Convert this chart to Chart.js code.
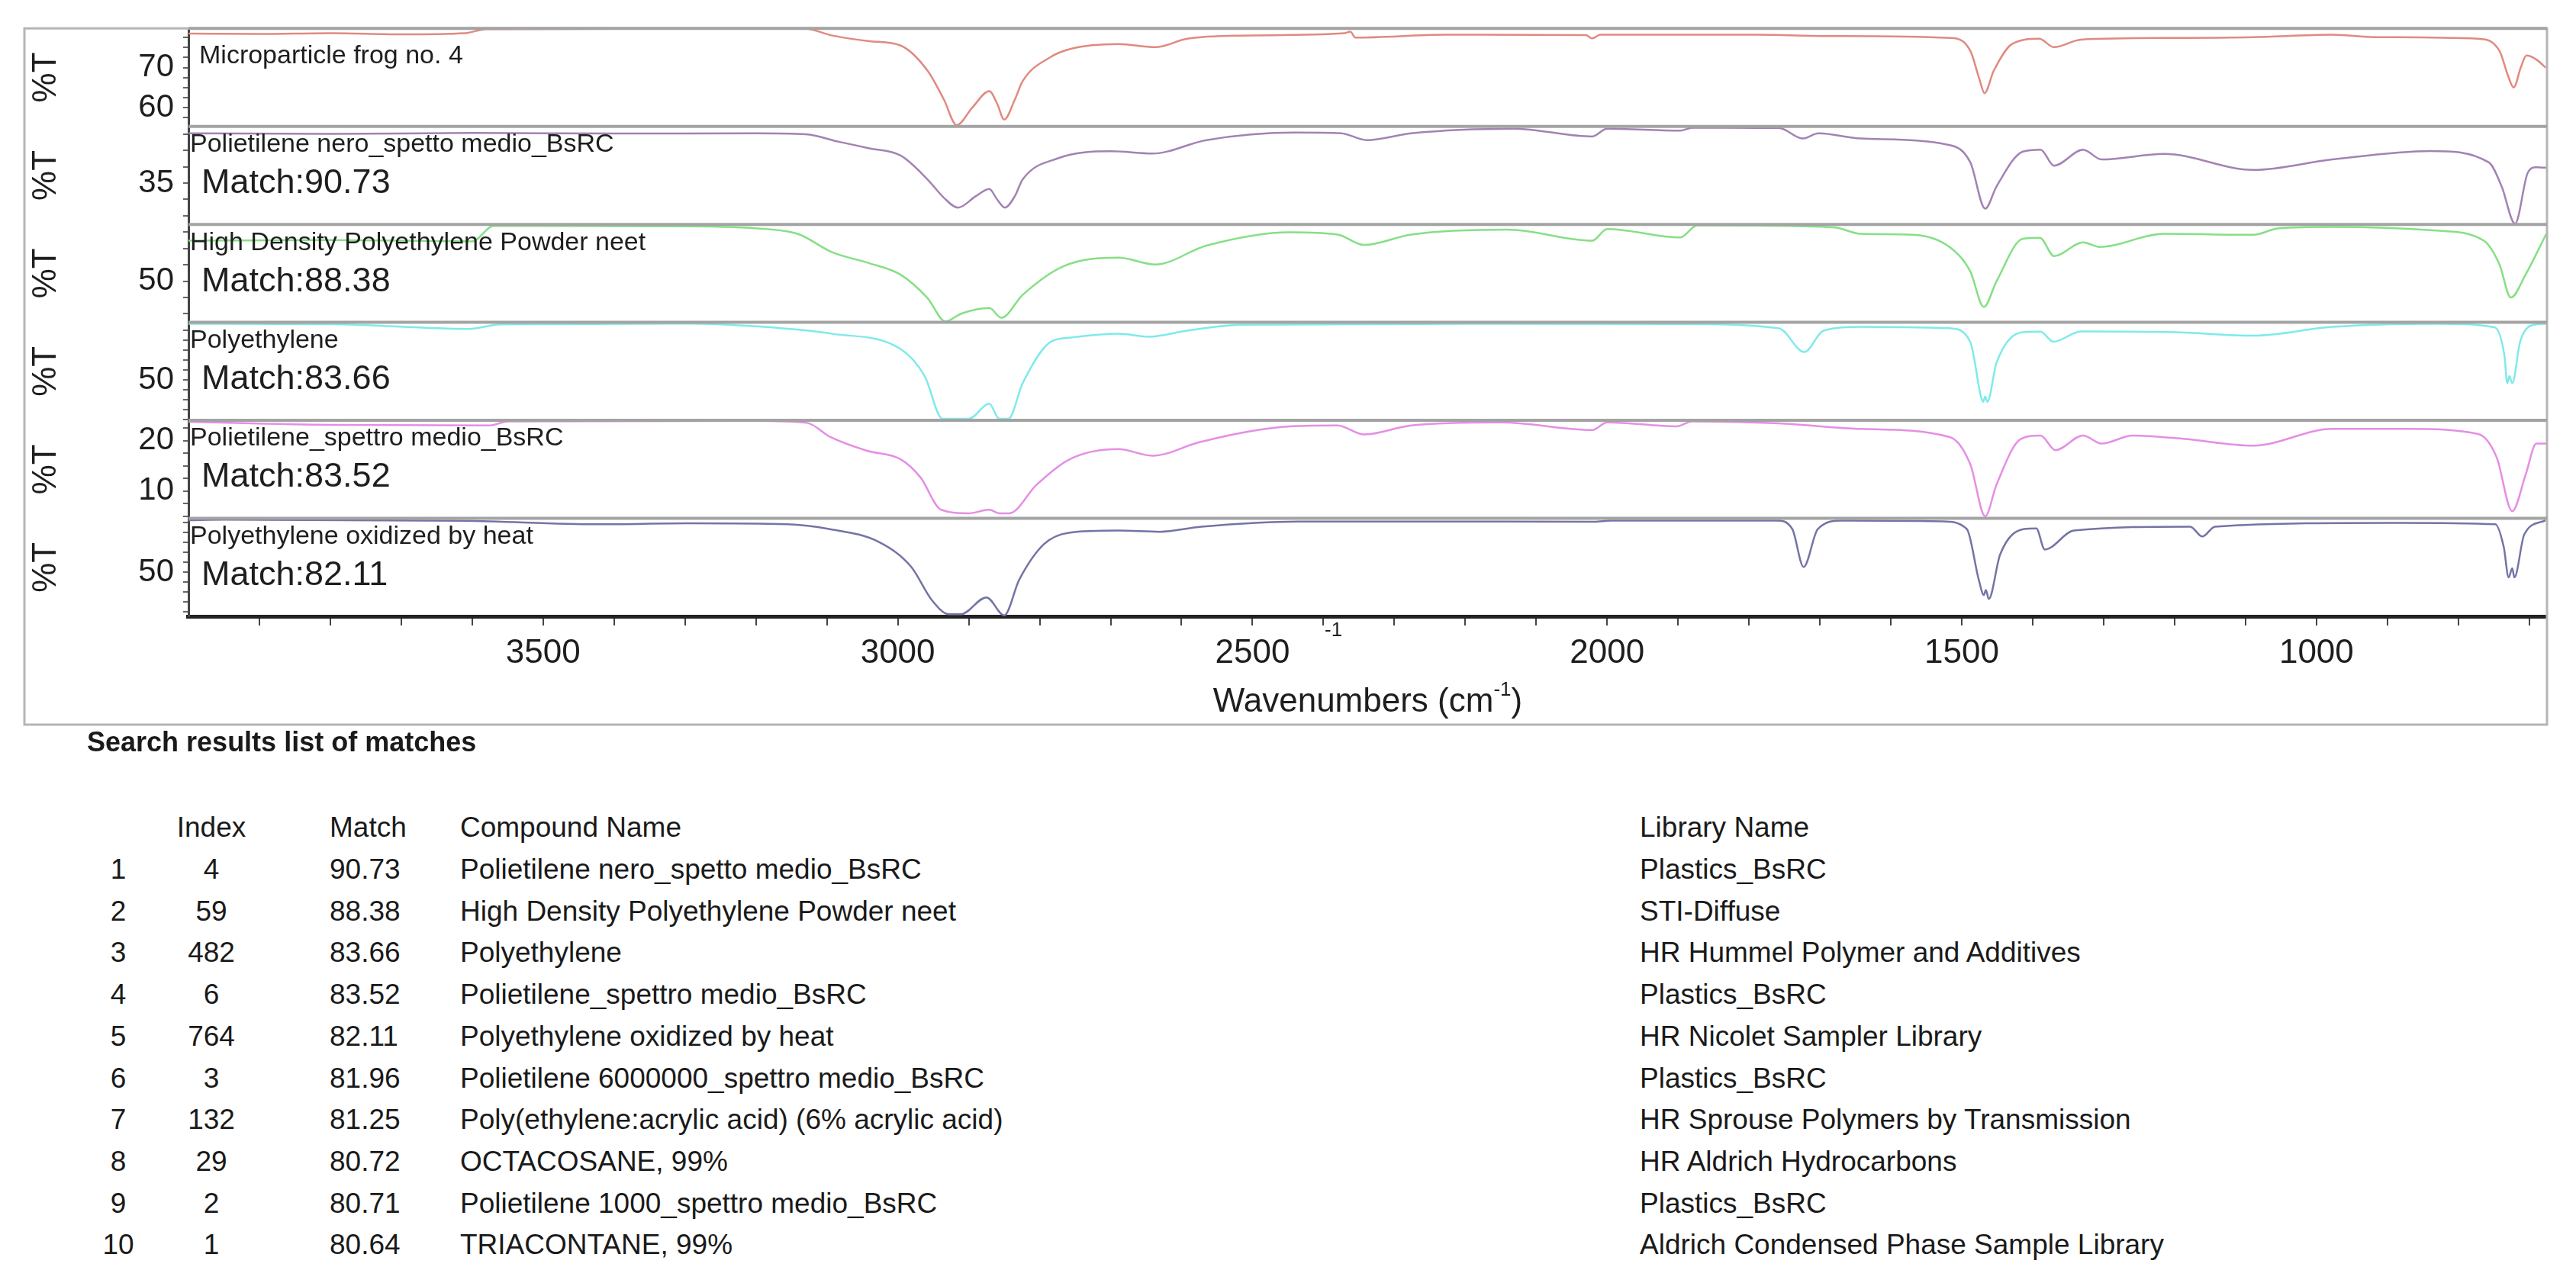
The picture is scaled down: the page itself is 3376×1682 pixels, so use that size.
<!DOCTYPE html>
<html lang="en">
<head>
  <meta charset="UTF-8">
  <title>Microparticle frog no. 4 - search results</title>
  <script src="https://cdn.jsdelivr.net/npm/chart.js"></script>
  <style>
    body {
      margin: 0;
      background: #fff;
      font-family: "Liberation Sans", Arial, sans-serif;
      color: #1a1a1a;
    }
    #wrap {
      position: relative;
      width: 3376px;
      height: 1682px;
      overflow: hidden;
    }
    #spectra {
      position: absolute;
      left: 0;
      top: 0;
    }
    .t {
      position: absolute;
      white-space: nowrap;
      font-size: 37px;
      line-height: 44px;
    }
    .c { transform: translateX(-50%); }
    .title {
      font-weight: bold;
      font-size: 36px;
    }
  </style>
</head>
<body>
  <div id="wrap">
    <canvas id="spectra" width="3376" height="1000"></canvas>
  </div>

  <script>
    // spectra: wavenumber (cm-1) and %T
    const frogWn = [4000, 3900, 3800, 3700, 3610, 3580, 3400, 3200, 3130, 3092, 3040, 2996, 2958, 2935, 2917, 2895, 2871, 2860, 2850, 2835, 2824, 2785, 2756, 2689, 2637, 2592, 2516, 2370, 2362, 2355, 2228, 2030, 2021, 2010, 1790, 1683, 1517, 1488, 1475, 1468, 1455, 1429, 1391, 1370, 1332, 1200, 1089, 978, 912, 772, 742, 730, 722, 712, 704, 690, 677];
    const frogT = [78.5, 78.4, 78.6, 78.3, 78.6, 79.6, 79.7, 79.8, 79.7, 78.0, 76.6, 75.5, 69.2, 62.0, 55.6, 60.0, 64.1, 61.0, 57.0, 62.0, 66.6, 72.6, 74.7, 75.9, 75.1, 77.2, 78.0, 78.6, 79.0, 77.5, 78.2, 78.1, 77.3, 78.2, 78.2, 77.9, 77.4, 74.2, 67.0, 63.6, 69.2, 75.9, 77.2, 75.1, 77.0, 77.4, 77.6, 78.2, 77.6, 77.2, 74.2, 68.0, 65.0, 70.0, 73.0, 72.0, 70.0];

    const neroWn = [4000, 3800, 3600, 3400, 3200, 3130, 3083, 3040, 2996, 2958, 2935, 2915, 2890, 2871, 2860, 2849, 2835, 2824, 2775, 2699, 2641, 2565, 2440, 2375, 2339, 2276, 2132, 2021, 2000, 1897, 1880, 1790, 1758, 1724, 1702, 1643, 1517, 1488, 1467, 1451, 1414, 1389, 1370, 1329, 1303, 1215, 1089, 978, 839, 757, 739, 720, 702, 690, 676];
    const neroT = [50.2, 50.0, 50.3, 50.1, 50.2, 49.9, 47.6, 45.6, 43.4, 36.1, 30.5, 27.5, 31.0, 33.2, 30.0, 27.5, 31.0, 36.1, 42.5, 44.7, 44.0, 48.1, 50.4, 50.2, 48.1, 50.2, 51.6, 49.2, 51.6, 51.0, 51.9, 51.8, 51.8, 48.6, 50.2, 48.6, 46.6, 41.3, 27.2, 34.0, 44.6, 45.2, 40.3, 45.2, 42.2, 43.9, 39.0, 42.2, 44.8, 41.3, 34.0, 22.6, 38.2, 39.8, 39.7];

    const hdpeWn = [4000, 3800, 3600, 3570, 3300, 3188, 3140, 3092, 3040, 2996, 2958, 2933, 2910, 2871, 2854, 2824, 2766, 2689, 2637, 2565, 2448, 2380, 2343, 2276, 2141, 2021, 2000, 1897, 1873, 1790, 1680, 1643, 1569, 1517, 1488, 1469, 1451, 1414, 1390, 1370, 1329, 1306, 1215, 1089, 1053, 978, 831, 764, 742, 726, 705, 676];
    const hdpeT = [62.4, 62.6, 62.2, 66.9, 66.8, 66.0, 64.4, 58.8, 55.5, 52.0, 44.8, 37.7, 40.1, 41.8, 38.8, 45.8, 54.6, 57.2, 55.1, 60.9, 65.0, 64.3, 61.1, 64.3, 65.8, 62.4, 66.0, 63.4, 67.1, 67.0, 66.5, 64.5, 64.2, 60.4, 53.0, 42.1, 50.0, 63.0, 63.3, 57.7, 61.9, 60.5, 64.5, 64.2, 66.2, 66.6, 65.5, 62.4, 55.1, 45.0, 52.1, 64.5];

    const peWn = [4000, 3800, 3605, 3560, 3300, 3188, 3092, 2996, 2962, 2937, 2900, 2871, 2857, 2844, 2824, 2785, 2756, 2689, 2646, 2592, 2516, 2200, 1900, 1758, 1722, 1695, 1643, 1517, 1488, 1473, 1470, 1467, 1464, 1451, 1414, 1389, 1371, 1332, 1200, 1089, 978, 831, 749, 735, 731, 728, 724, 713, 698, 676];
    const peT = [78.5, 78.3, 75.9, 78.2, 78.6, 76.9, 73.4, 65.7, 51.9, 30.4, 30.4, 38.0, 30.4, 30.4, 48.4, 69.2, 71.5, 73.4, 71.9, 75.0, 78.0, 78.5, 78.4, 76.2, 64.2, 75.0, 76.9, 76.2, 69.2, 41.6, 39.0, 41.6, 39.0, 58.8, 74.2, 74.5, 69.4, 74.6, 74.2, 72.5, 76.9, 78.5, 76.7, 62.3, 48.4, 52.0, 48.4, 69.2, 77.5, 78.5];

    const spettroWn = [4000, 3800, 3575, 3550, 3200, 3128, 3095, 3044, 2996, 2968, 2939, 2900, 2871, 2857, 2843, 2804, 2756, 2689, 2641, 2574, 2458, 2380, 2343, 2276, 2150, 2021, 2000, 1902, 1880, 1758, 1643, 1517, 1488, 1467, 1451, 1417, 1389, 1368, 1329, 1303, 1259, 1185, 1089, 978, 868, 772, 746, 724, 705, 690, 676];
    const spettroT = [23.7, 23.1, 23.0, 23.8, 23.9, 23.5, 20.7, 18.0, 16.3, 12.7, 6.3, 5.6, 6.3, 5.6, 5.6, 11.3, 16.4, 18.3, 17.0, 19.7, 22.7, 23.0, 21.2, 23.0, 23.6, 22.1, 23.6, 22.8, 23.8, 23.4, 22.3, 20.7, 15.3, 5.0, 11.3, 20.3, 21.0, 18.1, 21.0, 19.4, 21.0, 20.3, 19.0, 22.3, 22.3, 21.3, 16.7, 6.0, 13.3, 19.4, 19.4];

    const oxidWn = [4000, 3950, 3611, 3424, 3296, 3156, 3097, 3027, 2981, 2952, 2928, 2911, 2875, 2850, 2829, 2794, 2759, 2689, 2631, 2572, 2435, 2274, 2018, 1995, 1761, 1739, 1723, 1703, 1668, 1528, 1493, 1476, 1469, 1466, 1462, 1446, 1412, 1395, 1383, 1342, 1178, 1161, 1143, 887, 748, 736, 729, 724, 721, 707, 677];
    const oxidT = [76.3, 76.6, 76.1, 74.3, 74.8, 74.3, 71.9, 65.4, 52.7, 35.9, 28.8, 28.8, 37.3, 28.2, 46.1, 64.2, 70.0, 71.1, 70.5, 73.1, 75.7, 75.7, 75.6, 76.2, 76.2, 71.9, 52.7, 71.9, 76.2, 75.8, 71.9, 46.1, 38.5, 41.0, 36.5, 59.0, 71.9, 72.2, 61.5, 71.1, 73.1, 68.1, 73.1, 75.0, 74.3, 62.8, 47.4, 52.0, 47.4, 69.2, 76.3];

    const panelNames = [
      'Microparticle frog no. 4',
      'Polietilene nero_spetto medio_BsRC',
      'High Density Polyethylene Powder neet',
      'Polyethylene',
      'Polietilene_spettro medio_BsRC',
      'Polyethylene oxidized by heat'
    ];
    const panelMatch = ['', 'Match:90.73', 'Match:88.38', 'Match:83.66', 'Match:83.52', 'Match:82.11'];
    const panelTickLabels = [[70, 60], [35], [50], [50], [20, 10], [50]];
    const xTickLabels = [3500, 3000, 2500, 2000, 1500, 1000];

    // search results table
    const rankCol = ['1', '2', '3', '4', '5', '6', '7', '8', '9', '10'];
    const indexCol = ['4', '59', '482', '6', '764', '3', '132', '29', '2', '1'];
    const matchCol = ['90.73', '88.38', '83.66', '83.52', '82.11', '81.96', '81.25', '80.72', '80.71', '80.64'];
    const compoundCol = [
      'Polietilene nero_spetto medio_BsRC',
      'High Density Polyethylene Powder neet',
      'Polyethylene',
      'Polietilene_spettro medio_BsRC',
      'Polyethylene oxidized by heat',
      'Polietilene 6000000_spettro medio_BsRC',
      'Poly(ethylene:acrylic acid) (6% acrylic acid)',
      'OCTACOSANE, 99%',
      'Polietilene 1000_spettro medio_BsRC',
      'TRIACONTANE, 99%'
    ];
    const libraryCol = [
      'Plastics_BsRC',
      'STI-Diffuse',
      'HR Hummel Polymer and Additives',
      'Plastics_BsRC',
      'HR Nicolet Sampler Library',
      'Plastics_BsRC',
      'HR Sprouse Polymers by Transmission',
      'HR Aldrich Hydrocarbons',
      'Plastics_BsRC',
      'Aldrich Condensed Phase Sample Library'
    ];

    const spectra = [
      [frogWn, frogT], [neroWn, neroT], [hdpeWn, hdpeT],
      [peWn, peT], [spettroWn, spettroT], [oxidWn, oxidT]
    ];
    const colors = ['#e08a80', '#a283b4', '#86df86', '#7eeaea', '#e48fe4', '#7474a6'];
    const yRanges = [[55.3, 79.8], [22.4, 52.3], [37.4, 67.4], [29.6, 79.2], [4.6, 24], [27.7, 77.3]];
    const yMinorStep = [2.5, 5, 5, 5, 2.5, 5];

    const FONT = '"Liberation Sans", Arial, sans-serif';
    const AXIS_W = 247;

    const datasets = spectra.map(([wn, t], i) => ({
      label: panelNames[i],
      data: wn.map((w, k) => ({ x: w, y: t[k] })),
      yAxisID: 'y' + i,
      borderColor: colors[i],
      borderWidth: 2.5,
      pointRadius: 0,
      cubicInterpolationMode: 'monotone',
      fill: false
    }));

    const scales = {
      x: {
        type: 'linear',
        min: 675,
        max: 4000,
        reverse: true,
        afterFit: s => { s.height = 140; },
        afterBuildTicks: s => {
          const t = [];
          for (let v = 3900; v >= 700; v -= 100) t.push({ value: v });
          s.ticks = t;
        },
        ticks: {
          autoSkip: false,
          maxRotation: 0,
          padding: 10,
          color: '#1e1e1e',
          font: { family: FONT, size: 44 },
          callback: v => xTickLabels.includes(v) ? String(v) : ''
        },
        grid: { drawOnChartArea: false, drawTicks: true, tickLength: 12, color: '#444', lineWidth: 2 },
        border: { display: true, color: '#222', width: 5 },
        title: { display: false }
      }
    };

    yRanges.forEach(([lo, hi], i) => {
      const step = yMinorStep[i];
      scales['y' + i] = {
        type: 'linear',
        position: 'left',
        stack: 'panels',
        stackWeight: 1,
        weight: 6 - i,
        min: lo,
        max: hi,
        afterFit: s => { s.width = AXIS_W; },
        afterBuildTicks: s => {
          const t = [];
          for (let v = Math.ceil(lo / step) * step; v < hi; v += step) t.push({ value: v });
          s.ticks = t;
        },
        ticks: {
          autoSkip: false,
          padding: 12,
          color: '#1e1e1e',
          font: { family: FONT, size: 42 },
          callback: v => panelTickLabels[i].includes(v) ? String(v) : ''
        },
        grid: { drawOnChartArea: false, drawTicks: true, tickLength: 7, color: '#666', lineWidth: 2 },
        border: { display: true, color: '#444', width: 3 },
        title: {
          display: true,
          text: '%T',
          color: '#1e1e1e',
          font: { family: FONT, size: 44 },
          padding: { top: 34, bottom: 0 }
        }
      };
    });

    const decorations = {
      id: 'decorations',
      beforeDraw(chart) {
        const ctx = chart.ctx;
        ctx.save();
        ctx.fillStyle = '#fff';
        ctx.fillRect(0, 0, chart.width, chart.height);
        ctx.restore();
      },
      afterDraw(chart) {
        const ctx = chart.ctx;
        const area = chart.chartArea;
        ctx.save();

        // outer frame
        ctx.strokeStyle = '#b5b5b5';
        ctx.lineWidth = 3;
        ctx.strokeRect(32, area.top, area.right - 32, 950 - area.top);

        // panel separators
        ctx.strokeStyle = '#a3a3a3';
        ctx.lineWidth = 4;
        for (let i = 0; i < 6; i++) {
          const s = chart.scales['y' + i];
          ctx.beginPath();
          ctx.moveTo(area.left, s.top);
          ctx.lineTo(area.right, s.top);
          ctx.stroke();
        }

        // panel captions
        ctx.fillStyle = '#1e1e1e';
        ctx.textBaseline = 'middle';
        ctx.textAlign = 'left';
        for (let i = 0; i < 6; i++) {
          const s = chart.scales['y' + i];
          ctx.font = '34px ' + FONT;
          ctx.fillText(panelNames[i], area.left + (i === 0 ? 14 : 2), s.top + (i === 0 ? 36 : 24));
          if (panelMatch[i]) {
            ctx.font = '45px ' + FONT;
            ctx.fillText(panelMatch[i], area.left + 17, s.top + 75);
          }
        }

        // x axis title with superscript
        const cx = (area.left + area.right) / 2;
        const ty = 921;
        ctx.font = '44px ' + FONT;
        const main = 'Wavenumbers (cm';
        const wMain = ctx.measureText(main).width;
        ctx.font = '26px ' + FONT;
        const wSup = ctx.measureText('-1').width;
        ctx.font = '44px ' + FONT;
        const wEnd = ctx.measureText(')').width;
        const x0 = cx - (wMain + wSup + wEnd) / 2;
        ctx.fillText(main, x0, ty);
        ctx.font = '26px ' + FONT;
        ctx.fillText('-1', x0 + wMain, ty - 16);
        ctx.font = '44px ' + FONT;
        ctx.fillText(')', x0 + wMain + wSup, ty);

        // stray superscript left in the original export
        ctx.font = '26px ' + FONT;
        ctx.fillText('-1', 1736, 827);

        ctx.restore();
      }
    };

    new Chart(document.getElementById('spectra').getContext('2d'), {
      type: 'line',
      data: { datasets },
      options: {
        responsive: false,
        animation: false,
        devicePixelRatio: 1,
        layout: { padding: { left: 0, top: 33, right: 38, bottom: 52 } },
        plugins: {
          legend: { display: false },
          tooltip: { enabled: false }
        },
        scales
      },
      plugins: [decorations]
    });

    // search results list
    const wrap = document.getElementById('wrap');
    function addText(text, left, centerY, cls) {
      const el = document.createElement('div');
      el.className = 't' + (cls ? ' ' + cls : '');
      el.textContent = text;
      el.style.left = left + 'px';
      el.style.top = (centerY - 22) + 'px';
      wrap.appendChild(el);
    }

    addText('Search results list of matches', 114, 973, 'title');
    addText('Index', 277, 1085, 'c');
    addText('Match', 432, 1085);
    addText('Compound Name', 603, 1085);
    addText('Library Name', 2149, 1085);

    rankCol.forEach((r, i) => {
      const y = 1140 + i * 54.7;
      addText(r, 155, y, 'c');
      addText(indexCol[i], 277, y, 'c');
      addText(matchCol[i], 432, y);
      addText(compoundCol[i], 603, y);
      addText(libraryCol[i], 2149, y);
    });
  </script>
</body>
</html>
